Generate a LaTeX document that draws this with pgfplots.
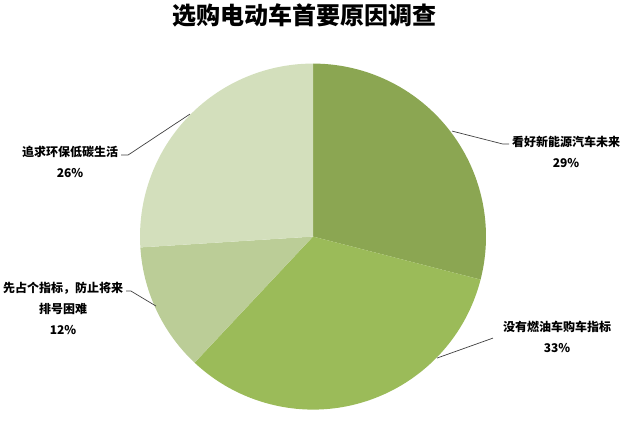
\documentclass[border=0pt]{standalone}
\usepackage{pgfplots}
\usepackage{pgfplotstable}
\pgfplotsset{compat=1.18}
\usepackage{fontspec}
\setmainfont{Noto Sans CJK SC}

\definecolor{sliceA}{HTML}{8BA652}
\definecolor{sliceB}{HTML}{9BBB59}
\definecolor{sliceC}{HTML}{BBCD97}
\definecolor{sliceD}{HTML}{D3DFBC}
\definecolor{leader}{HTML}{404040}

% share of answers, clockwise from 12 o'clock
\pgfplotstableread[col sep=comma]{
reason,value,color
future,29,sliceA
quota,33,sliceB
queue,12,sliceC
green,26,sliceD
}\piedata

% build the slices from the table
\def\slices{}
\def\startang{90}
\pgfplotstablegetrowsof{\piedata}
\pgfmathtruncatemacro\lastrow{\pgfplotsretval-1}
\pgfplotsforeachungrouped \i in {0,...,\lastrow}{%
  \pgfplotstablegetelem{\i}{value}\of\piedata
  \let\v\pgfplotsretval
  \pgfplotstablegetelem{\i}{color}\of\piedata
  \let\c\pgfplotsretval
  \pgfmathsetmacro\endang{\startang-3.6*\v}
  \edef\slices{\unexpanded\expandafter{\slices}%
    \noexpand\fill[\c] (axis cs:313,186.5) -- ++(\startang:173pt)
      arc[start angle=\startang, end angle=\endang, radius=173pt] -- cycle;}%
  \let\startang\endang
}

\begin{document}
\begin{tikzpicture}
\begin{axis}[
    width=634pt, height=423pt,
    scale only axis,
    hide axis,
    xmin=0, xmax=634,
    ymin=0, ymax=423,
    clip=false,
]
\slices
\path (axis cs:0,0) rectangle (axis cs:634,423);

% title
\node[font=\fontsize{24}{28}\selectfont\bfseries] at (axis cs:304,408) {选购电动车首要原因调查};

% leader lines
\draw[leader, line width=0.7pt] (axis cs:452,292) -- (axis cs:503,279) -- (axis cs:509,279);
\draw[leader, line width=0.7pt] (axis cs:437,65) -- (axis cs:493,85);
\draw[leader, line width=0.7pt] (axis cs:190,309) -- (axis cs:128,268) -- (axis cs:121,268);
\draw[leader, line width=0.7pt] (axis cs:156,117) -- (axis cs:131,132) -- (axis cs:126,132);

% labels
\begin{scope}[every node/.style={font=\fontsize{12}{14}\selectfont\bfseries, inner sep=0pt}]
\node at (axis cs:566,281) {看好新能源汽车未来};
\node at (axis cs:566,260) {29\%};
\node at (axis cs:557,96) {没有燃油车购车指标};
\node at (axis cs:557,75) {33\%};
\node at (axis cs:70,271) {追求环保低碳生活};
\node at (axis cs:70,250) {26\%};
\node at (axis cs:63,135) {先占个指标，防止将来};
\node at (axis cs:63,114) {排号困难};
\node at (axis cs:63,93) {12\%};
\end{scope}
\end{axis}
\end{tikzpicture}
\end{document}
